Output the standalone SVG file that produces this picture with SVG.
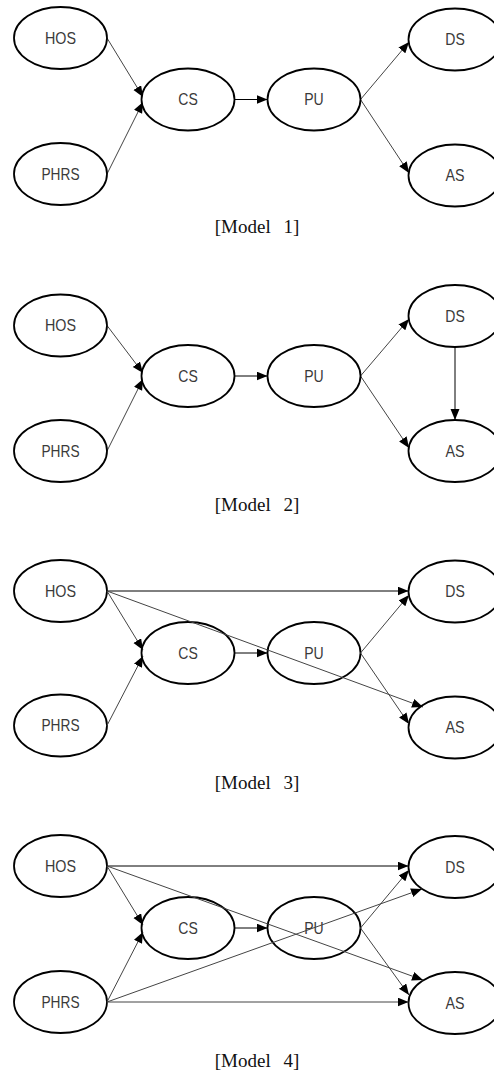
<svg xmlns="http://www.w3.org/2000/svg" width="494" height="1072" viewBox="0 0 494 1072">
<style>
.node ellipse{fill:#fff;stroke:#000;stroke-width:1.8}
.node text{font-family:"Liberation Sans","DejaVu Sans",sans-serif;font-size:17px;fill:#3a3a3a;text-anchor:middle;dominant-baseline:central}
.cap{font-family:"Liberation Serif","DejaVu Serif",serif;font-size:19px;fill:#111;text-anchor:middle;word-spacing:8px}
.edges line{stroke:#444;stroke-width:1;marker-end:url(#ah)}
.edges line.k{stroke:#000}
</style>
<defs>
<marker id="ah" markerUnits="userSpaceOnUse" markerWidth="12" markerHeight="10" refX="11" refY="4.5" orient="auto">
<path d="M0,0 L11,4.5 L0,9 z" fill="#000"/>
</marker>
</defs>
<rect width="494" height="1072" fill="#fff"/>

<!-- Model 1 -->
<g class="edges" id="edges1">
<line x1="107" y1="38" x2="143" y2="97"/>
<line x1="107" y1="174" x2="143" y2="102"/>
<line class="k" x1="234.5" y1="99.5" x2="267.5" y2="99.5"/>
<line x1="360.5" y1="99.5" x2="409" y2="42"/>
<line x1="360.5" y1="99.5" x2="409" y2="173"/>
</g>
<g class="node" id="m1-hos"><ellipse cx="60.5" cy="38" rx="46.5" ry="31"/><text x="60.5" y="38" textLength="31" lengthAdjust="spacingAndGlyphs">HOS</text></g>
<g class="node" id="m1-phrs"><ellipse cx="60.5" cy="174" rx="46.5" ry="31"/><text x="60.5" y="174" textLength="38" lengthAdjust="spacingAndGlyphs">PHRS</text></g>
<g class="node" id="m1-cs"><ellipse cx="188" cy="99.5" rx="46.5" ry="31"/><text x="188" y="99.5" textLength="19.5" lengthAdjust="spacingAndGlyphs">CS</text></g>
<g class="node" id="m1-pu"><ellipse cx="314" cy="99.5" rx="46.5" ry="31"/><text x="314" y="99.5" textLength="19.5" lengthAdjust="spacingAndGlyphs">PU</text></g>
<g class="node" id="m1-ds"><ellipse cx="455" cy="39.5" rx="46.5" ry="31"/><text x="455" y="39.5" textLength="19.5" lengthAdjust="spacingAndGlyphs">DS</text></g>
<g class="node" id="m1-as"><ellipse cx="455" cy="175.5" rx="46.5" ry="31"/><text x="455" y="175.5" textLength="19" lengthAdjust="spacingAndGlyphs">AS</text></g>
<text class="cap" x="257" y="233">[Model 1]</text>

<!-- Model 2 -->
<g class="edges" id="edges2">
<line x1="107" y1="325.5" x2="143" y2="373"/>
<line x1="107" y1="451" x2="143" y2="379"/>
<line class="k" x1="234.5" y1="376" x2="267.5" y2="376"/>
<line x1="360.5" y1="376" x2="409" y2="319"/>
<line x1="360.5" y1="376" x2="409" y2="448"/>
<line class="k" x1="455" y1="347" x2="455" y2="420"/>
</g>
<g class="node" id="m2-hos"><ellipse cx="60.5" cy="325.5" rx="46.5" ry="31"/><text x="60.5" y="325.5" textLength="31" lengthAdjust="spacingAndGlyphs">HOS</text></g>
<g class="node" id="m2-phrs"><ellipse cx="60.5" cy="451" rx="46.5" ry="31"/><text x="60.5" y="451" textLength="38" lengthAdjust="spacingAndGlyphs">PHRS</text></g>
<g class="node" id="m2-cs"><ellipse cx="188" cy="376" rx="46.5" ry="31"/><text x="188" y="376" textLength="19.5" lengthAdjust="spacingAndGlyphs">CS</text></g>
<g class="node" id="m2-pu"><ellipse cx="314" cy="376" rx="46.5" ry="31"/><text x="314" y="376" textLength="19.5" lengthAdjust="spacingAndGlyphs">PU</text></g>
<g class="node" id="m2-ds"><ellipse cx="455" cy="316" rx="46.5" ry="31"/><text x="455" y="316" textLength="19.5" lengthAdjust="spacingAndGlyphs">DS</text></g>
<g class="node" id="m2-as"><ellipse cx="455" cy="451" rx="46.5" ry="31"/><text x="455" y="451" textLength="19" lengthAdjust="spacingAndGlyphs">AS</text></g>
<text class="cap" x="257" y="511">[Model 2]</text>

<!-- Model 3 -->
<g class="node" id="m3-hos"><ellipse cx="60.5" cy="591" rx="46.5" ry="31"/><text x="60.5" y="591" textLength="31" lengthAdjust="spacingAndGlyphs">HOS</text></g>
<g class="node" id="m3-phrs"><ellipse cx="60.5" cy="725.5" rx="46.5" ry="31"/><text x="60.5" y="725.5" textLength="38" lengthAdjust="spacingAndGlyphs">PHRS</text></g>
<g class="node" id="m3-cs"><ellipse cx="188" cy="653" rx="46.5" ry="31"/><text x="188" y="653" textLength="19.5" lengthAdjust="spacingAndGlyphs">CS</text></g>
<g class="node" id="m3-pu"><ellipse cx="314" cy="653" rx="46.5" ry="31"/><text x="314" y="653" textLength="19.5" lengthAdjust="spacingAndGlyphs">PU</text></g>
<g class="node" id="m3-ds"><ellipse cx="455" cy="591.5" rx="46.5" ry="31"/><text x="455" y="591.5" textLength="19.5" lengthAdjust="spacingAndGlyphs">DS</text></g>
<g class="node" id="m3-as"><ellipse cx="455" cy="727.5" rx="46.5" ry="31"/><text x="455" y="727.5" textLength="19" lengthAdjust="spacingAndGlyphs">AS</text></g>
<g class="edges" id="edges3">
<line class="k" x1="107" y1="591" x2="408.5" y2="591"/>
<line x1="107" y1="591" x2="423" y2="707"/>
<line x1="107" y1="591" x2="143" y2="650"/>
<line x1="107" y1="725.5" x2="143" y2="656"/>
<line class="k" x1="234.5" y1="653" x2="267.5" y2="653"/>
<line x1="360.5" y1="653" x2="409" y2="595"/>
<line x1="360.5" y1="653" x2="409" y2="724"/>
</g>
<text class="cap" x="257" y="789">[Model 3]</text>

<!-- Model 4 -->
<g class="node" id="m4-hos"><ellipse cx="60.5" cy="866" rx="46.5" ry="31"/><text x="60.5" y="866" textLength="31" lengthAdjust="spacingAndGlyphs">HOS</text></g>
<g class="node" id="m4-phrs"><ellipse cx="60.5" cy="1002" rx="46.5" ry="31"/><text x="60.5" y="1002" textLength="38" lengthAdjust="spacingAndGlyphs">PHRS</text></g>
<g class="node" id="m4-cs"><ellipse cx="188" cy="928" rx="46.5" ry="31"/><text x="188" y="928" textLength="19.5" lengthAdjust="spacingAndGlyphs">CS</text></g>
<g class="node" id="m4-pu"><ellipse cx="314" cy="928" rx="46.5" ry="31"/><text x="314" y="928" textLength="19.5" lengthAdjust="spacingAndGlyphs">PU</text></g>
<g class="node" id="m4-ds"><ellipse cx="455" cy="867" rx="46.5" ry="31"/><text x="455" y="867" textLength="19.5" lengthAdjust="spacingAndGlyphs">DS</text></g>
<g class="node" id="m4-as"><ellipse cx="455" cy="1003" rx="46.5" ry="31"/><text x="455" y="1003" textLength="19" lengthAdjust="spacingAndGlyphs">AS</text></g>
<g class="edges" id="edges4">
<line class="k" x1="107" y1="866" x2="408.5" y2="866"/>
<line x1="107" y1="866" x2="423" y2="980"/>
<line x1="107" y1="866" x2="143" y2="925"/>
<line x1="107" y1="1002" x2="143" y2="932"/>
<line x1="107" y1="1002" x2="422" y2="889"/>
<line x1="107" y1="1002" x2="408.5" y2="1002"/>
<line class="k" x1="234.5" y1="928" x2="267.5" y2="928"/>
<line x1="360.5" y1="928" x2="409" y2="870"/>
<line x1="360.5" y1="928" x2="409" y2="995"/>
</g>
<text class="cap" x="257" y="1067">[Model 4]</text>
</svg>
